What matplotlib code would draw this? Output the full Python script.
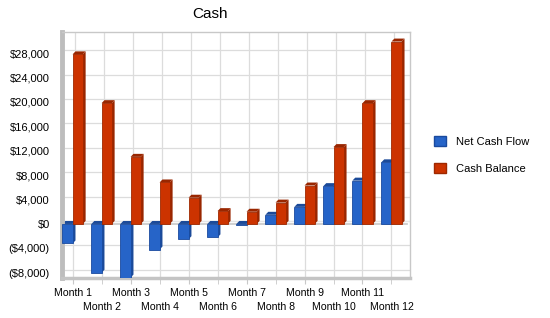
import matplotlib
matplotlib.use('Agg')
import matplotlib.pyplot as plt
from matplotlib.patches import Polygon, Patch
from matplotlib.ticker import FuncFormatter
import numpy as np

plt.rcParams['font.family'] = ['Liberation Sans', 'DejaVu Sans']

# data
months = ['Month 1', 'Month 2', 'Month 3', 'Month 4', 'Month 5', 'Month 6',
          'Month 7', 'Month 8', 'Month 9', 'Month 10', 'Month 11', 'Month 12']
net_cash_flow = [-3200, -8000, -8800, -4200, -2500, -2200,
                 -100, 1500, 2800, 6200, 7100, 10100]
cash_balance = [27800, 19800, 11000, 6800, 4300, 2100,
                2000, 3500, 6300, 12600, 19800, 29900]
series_names = ['Net Cash Flow', 'Cash Balance']

face_colors = ['#2664C8', '#CC3300']
side_colors = ['#1B4A99', '#992600']
edge_colors = ['#1A4A9E', '#9E2800']

fig = plt.figure(figsize=(5.5, 3.18), dpi=100)
ax = fig.add_axes([0.113, 0.126, 0.632, 0.774])

ymin, ymax = -8850, 31500
xlo, xhi = 0.64, 12.63
ax.set_xlim(xlo, xhi)
ax.set_ylim(ymin, ymax)

# depth offset of the fake 3D look (about 3 px)
dx, dy = 0.10, 490

x = np.arange(1, len(months) + 1)
yticks = np.arange(-8000, 28001, 4000)

# back wall grid
grid_c = '#DCDCDC'
for v in yticks:
    ax.plot([xlo + dx, xhi], [v + dy, v + dy], color=grid_c, lw=0.9, zorder=0)
for xi in x:
    ax.plot([xi + dx, xi + dx], [dy, ymax], color=grid_c, lw=0.9, zorder=0)
    ax.plot([xi, xi], [ymin, 0], color=grid_c, lw=0.9, zorder=0)
# zero plane
ax.plot([xlo, xhi - dx], [0, 0], color='#C8C8C8', lw=1.2, zorder=1)
ax.plot([xlo + dx, xhi], [dy, dy], color='#E6E6E6', lw=0.8, zorder=1)

w = 0.35
for s, (vals, off) in enumerate([(net_cash_flow, -w / 2), (cash_balance, w / 2)]):
    xs = x + off
    ax.bar(xs, vals, width=w, color=face_colors[s], edgecolor=edge_colors[s],
           linewidth=0.6, zorder=3)
    for xc, v in zip(xs, vals):
        x0, x1 = xc - w / 2, xc + w / 2
        top = max(v, 0)
        bot = min(v, 0)
        side = Polygon([(x1, bot), (x1 + dx, bot + dy), (x1 + dx, top + dy), (x1, top)],
                       closed=True, facecolor=side_colors[s], edgecolor='none', zorder=2)
        ax.add_patch(side)
        cap = Polygon([(x0, top), (x0 + dx, top + dy), (x1 + dx, top + dy), (x1, top)],
                      closed=True, facecolor=side_colors[s], edgecolor='none', zorder=2)
        ax.add_patch(cap)

# frame
for sp in ['top', 'right']:
    ax.spines[sp].set_color('#C8C8C8')
    ax.spines[sp].set_linewidth(1.0)
ax.spines['left'].set_color('#BDBDBD')
ax.spines['left'].set_linewidth(3.5)
ax.spines['bottom'].set_color('#C4C4C4')
ax.spines['bottom'].set_linewidth(2.5)


def money(v, pos):
    if v < 0:
        return '(${:,.0f})'.format(-v)
    return '${:,.0f}'.format(v)


ax.set_yticks(yticks)
ax.yaxis.set_major_formatter(FuncFormatter(money))
ax.tick_params(axis='y', length=0, labelsize=8, pad=9)

# staggered month labels: odd months on the first row, even months below
ax.set_xticks(x[::2])
ax.set_xticklabels(months[::2])
ax.set_xticks(x[1::2], minor=True)
ax.set_xticklabels(months[1::2], minor=True)
ax.tick_params(axis='x', which='major', length=4, color='#C8C8C8', labelsize=7.6, pad=3)
ax.tick_params(axis='x', which='minor', length=4, color='#C8C8C8', labelsize=7.6, pad=13.5)

fig.text(0.382, 0.955, 'Cash', ha='center', va='center', fontsize=11)

handles = [Patch(facecolor=face_colors[i], edgecolor=edge_colors[i], label=series_names[i])
           for i in range(2)]
fig.legend(handles=handles, loc='upper left', bbox_to_anchor=(0.77, 0.605),
           frameon=False, fontsize=8, handlelength=1.1, handleheight=1.1,
           labelspacing=1.45, handletextpad=0.9)

plt.savefig('out.png', dpi=100, facecolor='white')
